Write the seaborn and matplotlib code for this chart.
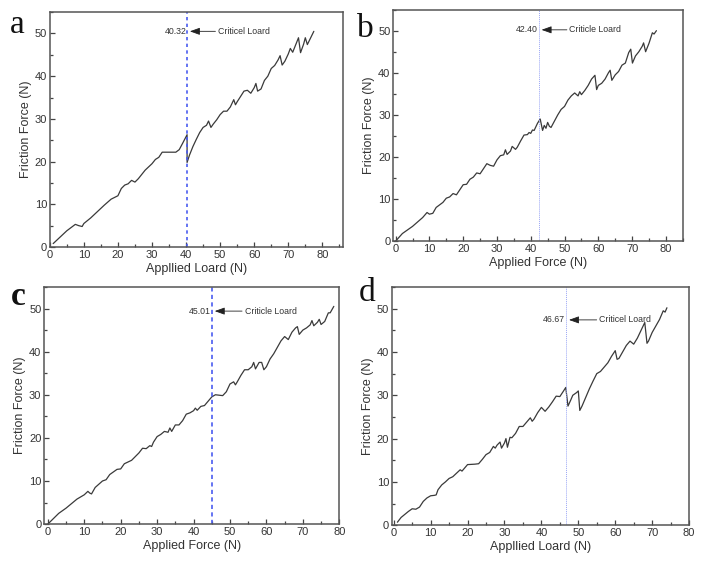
import numpy as np
import pandas as pd
import seaborn as sns
import matplotlib.pyplot as plt
from matplotlib.ticker import MultipleLocator

# panel a
a_load = [1, 5, 7.5, 8.5, 9.5, 10, 12, 14, 16, 18, 19, 20, 21, 22, 23, 24, 25, 26, 28, 30,
          31, 32, 33, 35, 37, 38, 39, 40.3, 40.3, 41, 42, 43, 44, 45, 46, 46.6, 47.3, 48, 49, 50,
          51, 52, 53, 54, 54.5, 55, 57, 58, 59, 60, 60.5, 61, 62, 63, 64, 65, 66, 67, 67.6, 68.2,
          69, 70, 70.6, 71.3, 72, 73, 73.6, 74.5, 75, 75.6, 77.5]
a_fric = [0.8, 3.8, 5.3, 5.0, 4.8, 5.5, 6.8, 8.3, 9.8, 11.2, 11.6, 12.0, 13.7, 14.5, 14.8, 15.6, 15.2, 16.0, 18.0, 19.5,
          20.5, 21.0, 22.2, 22.2, 22.2, 22.8, 24.3, 26.3, 19.8, 21.5, 23.5, 25.2, 26.8, 28.0, 28.5, 29.5, 28.0, 28.8, 29.8, 31.0,
          31.8, 31.8, 32.8, 34.5, 33.3, 34.0, 36.5, 36.7, 36.0, 37.3, 38.3, 36.5, 37.0, 39.0, 40.0, 41.8, 42.5, 43.8, 44.8, 42.6,
          43.5, 45.2, 46.5, 45.6, 47.0, 49.0, 45.5, 47.5, 49.0, 47.4, 50.5]

# panel b
b_load = [0, 2, 5, 8, 9.3, 10, 11, 12, 14, 15, 16, 17, 18, 19, 20, 21, 22, 23, 24, 25,
          26, 27, 28, 29, 30, 31, 32, 32.5, 33, 34, 34.5, 35.5, 36, 37, 38, 39, 39.5, 40, 40.5, 41,
          42, 42.8, 43.5, 44, 44.5, 45, 45.5, 46, 47, 48, 49, 50, 51, 52, 53, 54, 54.5, 55, 56, 57,
          58, 59, 59.5, 60, 61, 62, 63, 63.5, 64, 65, 66, 67, 68, 69, 69.6, 70.1, 71, 72, 73, 73.4,
          74, 75, 76, 76.5, 77.2]
b_fric = [0, 1.8, 3.5, 5.6, 6.8, 6.4, 6.6, 8.0, 9.2, 10.2, 10.5, 11.3, 11.0, 12.2, 13.4, 13.5, 14.7, 15.2, 16.2, 16.0,
          17.2, 18.4, 18.0, 17.8, 19.3, 20.3, 20.5, 21.7, 20.6, 21.4, 22.5, 21.8, 22.3, 23.8, 25.2, 25.3, 25.8, 25.6, 26.4, 26.3,
          28.0, 29.0, 26.3, 27.5, 26.8, 28.2, 27.3, 27.0, 28.5, 30.0, 31.3, 32.0, 33.5, 34.5, 35.2, 34.5, 35.5, 34.8, 35.8, 37.0,
          38.5, 39.4, 36.0, 37.0, 37.5, 38.5, 40.0, 40.6, 38.2, 39.5, 40.3, 41.8, 42.3, 44.8, 45.6, 42.3, 44.0, 45.0, 46.3, 47.1,
          45.0, 47.0, 49.5, 49.2, 50.0]

# panel c
c_load = [0, 3, 5, 8, 10, 11, 11.5, 12, 13, 15, 16, 17, 19, 20, 21, 23, 25, 26, 27, 28,
          28.5, 29, 30, 31, 32, 33, 33.5, 34, 35, 36, 37, 38, 39, 40, 40.5, 41, 42, 43, 44, 45,
          46, 48, 49, 50, 51, 51.5, 52, 53, 54, 55, 56, 56.5, 57, 58, 58.7, 59.3, 60, 61, 62, 63,
          64, 65, 66, 67, 68, 68.5, 69, 70, 71, 72, 72.5, 73, 74, 74.5, 75, 76, 77, 77.5, 78.5]
c_fric = [0, 2.5, 3.7, 5.8, 6.8, 7.6, 7.2, 7.0, 8.5, 10.0, 10.3, 11.5, 12.7, 12.8, 14.0, 14.8, 16.5, 17.6, 17.5, 18.2,
          18.0, 19.0, 20.3, 20.8, 21.5, 21.3, 22.3, 21.5, 23.0, 23.0, 24.0, 25.5, 25.8, 26.3, 26.9, 26.4, 27.3, 27.5, 28.5, 29.5,
          30.0, 29.8, 30.7, 32.5, 33.0, 32.3, 33.0, 34.5, 35.8, 35.8, 36.5, 37.5, 36.0, 37.5, 37.5, 35.8, 36.5, 38.3, 39.5, 41.0,
          42.5, 43.5, 42.8, 44.5, 45.5, 45.8, 44.0, 45.0, 45.5, 46.2, 47.2, 46.0, 46.8, 47.5, 46.3, 47.0, 49.0, 49.0, 50.5]

# panel d
d_load = [1, 2, 4, 5, 6, 7, 8, 9, 10, 11, 11.5, 12, 13, 14, 15, 16, 17, 18, 18.5, 19,
          20, 22, 23, 24, 25, 26, 27, 27.5, 28, 28.8, 29.2, 30, 30.4, 30.8, 31.5, 32, 33, 34, 35, 36,
          37, 37.5, 38, 39, 40, 41, 42, 43, 44, 45, 46, 46.6, 47.2, 48, 48.5, 49.5, 50, 50.4, 51, 52,
          53, 54, 55, 56, 57, 58, 59, 60, 60.5, 61, 62, 63, 64, 65, 66, 67, 68, 68.6, 69, 70,
          71, 72, 73, 73.5, 74]
d_fric = [0.7, 1.8, 3.2, 3.8, 3.7, 4.2, 5.5, 6.3, 6.8, 6.9, 7.0, 8.2, 9.3, 10.0, 10.8, 11.2, 12.0, 12.8, 12.5, 13.0,
          14.0, 14.1, 14.2, 15.2, 16.3, 16.8, 18.2, 17.8, 18.5, 19.2, 17.8, 19.0, 20.0, 18.0, 20.3, 20.2, 21.2, 22.8, 22.8, 23.8,
          24.8, 24.0, 24.5, 26.0, 27.2, 26.3, 27.3, 28.5, 29.8, 29.7, 31.0, 31.8, 27.5, 29.0, 30.0, 30.6, 31.0, 26.5, 27.5, 29.5,
          31.5, 33.3, 35.0, 35.5, 36.5, 37.5, 39.0, 40.3, 38.3, 38.5, 40.0, 41.5, 42.5, 41.8, 43.2, 45.0, 46.8, 42.0, 42.5, 44.5,
          46.0, 47.5, 49.5, 49.2, 50.2]

letters = ['a', 'b', 'c', 'd']
critical = [40.32, 42.40, 45.01, 46.67]
crit_text = ['Criticel Loard', 'Criticle Loard', 'Criticle Loard', 'Criticel Loard']
xlabels = ['Appllied Loard (N)', 'Applied Force (N)', 'Applied Force (N)', 'Appllied Loard (N)']
ann_y = [50.5, 50.2, 49.4, 47.4]

loads = [a_load, b_load, c_load, d_load]
frics = [a_fric, b_fric, c_fric, d_fric]

sns.set_theme(style="ticks")
plt.rcParams['font.family'] = ['Liberation Sans', 'DejaVu Sans']

fig = plt.figure(figsize=(7.01, 5.66), dpi=100)
rects = [[0.071, 0.5636, 0.418, 0.415],
         [0.561, 0.574, 0.413, 0.409],
         [0.063, 0.074, 0.421, 0.419],
         [0.559, 0.072, 0.424, 0.421]]
xlims = [(0, 86), (-0.7, 85), (-1, 80), (-0.5, 80)]
vstyles = [dict(color='#4a5cf0', ls=(0, (2, 2)), lw=1.2),
           dict(color='#9aa6f5', ls=(0, (1, 1)), lw=0.7),
           dict(color='#4a5cf0', ls=(0, (2.5, 2)), lw=1.2),
           dict(color='#9aa6f5', ls=(0, (1, 1)), lw=0.7)]
# baseline positions of the panel letters (pixels from top-left)
letter_px = [(10, 33), (357, 37), (11, 305), (359, 301)]
letter_w = ['normal', 'normal', 'bold', 'normal']

txt = '#333333'
for i in range(4):
    ax = fig.add_axes(rects[i])
    df = pd.DataFrame({'load': loads[i], 'friction': frics[i]})
    sns.lineplot(data=df, x='load', y='friction', ax=ax, sort=False, estimator=None,
                 color='#3a3a3a', lw=0.9)
    ax.axvline(critical[i], **vstyles[i])
    c = critical[i]
    y = ann_y[i]
    ax.text(c - 0.2, y, f"{c:.2f}", ha='right', va='center', fontsize=6.3, color=txt)
    ax.annotate("", xy=(c + 0.8, y), xytext=(c + 8.3, y),
                arrowprops=dict(arrowstyle='-|>,head_length=0.5,head_width=0.18',
                                color='#222222', lw=0.6, shrinkA=0, shrinkB=0))
    ax.text(c + 9.0, y, crit_text[i], ha='left', va='center', fontsize=6.3, color=txt)

    ax.set_xlim(*xlims[i])
    ax.set_ylim(0, 55)
    ax.xaxis.set_major_locator(MultipleLocator(10))
    ax.xaxis.set_minor_locator(MultipleLocator(5))
    ax.yaxis.set_major_locator(MultipleLocator(10))
    ax.yaxis.set_minor_locator(MultipleLocator(5))
    ax.tick_params(which='both', direction='in', colors='#444444', labelcolor=txt,
                   labelsize=8, width=0.9)
    ax.tick_params(which='major', length=3.5, pad=2)
    ax.tick_params(which='minor', length=2)
    for s in ax.spines.values():
        s.set_visible(True)
        s.set_color('#555555')
        s.set_linewidth(1.1)
    ax.set_xlabel(xlabels[i], fontsize=9, color=txt, labelpad=2)
    ax.set_ylabel('Friction Force (N)', fontsize=9, color=txt, labelpad=2)
    lx, ly = letter_px[i]
    fig.text(lx / 701, 1 - ly / 566, letters[i], fontsize=24, fontweight=letter_w[i],
             family='Liberation Serif', color='#111111', ha='left', va='baseline')

fig.savefig('out.png', dpi=100)
